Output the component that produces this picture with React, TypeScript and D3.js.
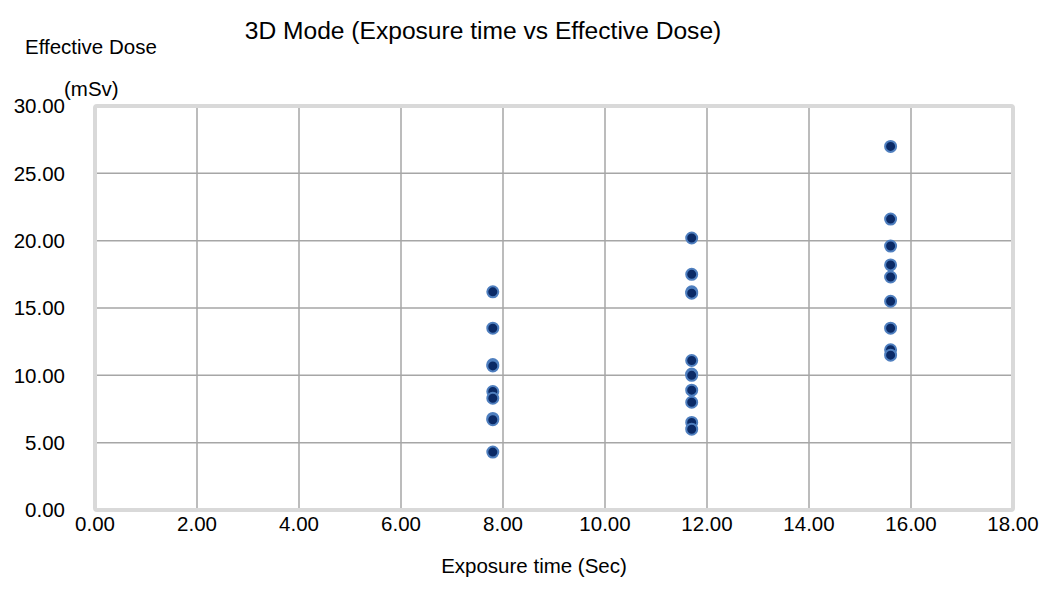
import React from 'react';
import * as d3 from 'd3';

// exposure time (Sec) per scan group
const xGroups = [7.8, 11.7, 15.6];
// effective dose (mSv) read per group
const doses7_8 = [16.2, 13.5, 10.8, 10.7, 8.8, 8.3, 6.8, 6.7, 4.3];
const doses11_7 = [20.2, 17.5, 16.2, 16.1, 11.1, 10.1, 10.0, 8.9, 8.0, 6.5, 6.0];
const doses15_6 = [27.0, 21.6, 19.6, 18.2, 17.3, 15.5, 13.5, 11.9, 11.5];
const xTicks = [0, 2, 4, 6, 8, 10, 12, 14, 16, 18];
const yTicks = [0, 5, 10, 15, 20, 25, 30];

const W = 1047;
const H = 604;
const font = 'Liberation Sans, Arial, sans-serif';

const App = () => {
  const x = d3.scaleLinear().domain([0, 18]).range([95, 1013]);
  const y = d3.scaleLinear().domain([0, 30]).range([510, 106]);

  const points = [doses7_8, doses11_7, doses15_6].flatMap((arr, i) =>
    arr.map(v => ({ x: xGroups[i], y: v }))
  );

  return (
    <svg width={W} height={H} style={{ position: 'absolute', left: 0, top: 0 }}>
      <rect width={W} height={H} fill="#fff" />
      <text x={483} y={39} textAnchor="middle" fontFamily={font} fontSize={24.6} fill="#000">
        3D Mode (Exposure time vs Effective Dose)
      </text>
      <text x={25} y={54} fontFamily={font} fontSize={20.5} fill="#000">Effective Dose</text>
      <text x={64} y={96} fontFamily={font} fontSize={20.5} fill="#000">(mSv)</text>

      {/* grid */}
      {xTicks.filter(t => t > 0 && t < 18).map(t => (
        <line key={'gx' + t} x1={x(t)} x2={x(t)} y1={y(30)} y2={y(0)} stroke="#a6a6a6" strokeWidth={1.5} />
      ))}
      {yTicks.filter(t => t > 0 && t < 30).map(t => (
        <line key={'gy' + t} x1={x(0)} x2={x(18)} y1={y(t)} y2={y(t)} stroke="#a6a6a6" strokeWidth={1.5} />
      ))}
      <rect x={x(0)} y={y(30)} width={x(18) - x(0)} height={y(0) - y(30)} fill="none" stroke="#d9d9d9" strokeWidth={4} rx={2} />

      {/* tick labels */}
      {yTicks.map(t => (
        <text key={'ty' + t} x={65} y={y(t)} dy="0.35em" textAnchor="end" fontFamily={font} fontSize={20.5} fill="#000">
          {t.toFixed(2)}
        </text>
      ))}
      {xTicks.map(t => (
        <text key={'tx' + t} x={x(t)} y={531} textAnchor="middle" fontFamily={font} fontSize={20.5} fill="#000">
          {t.toFixed(2)}
        </text>
      ))}
      <text x={534} y={573} textAnchor="middle" fontFamily={font} fontSize={20.5} fill="#000">
        Exposure time (Sec)
      </text>

      {points.map((p, i) => (
        <circle key={i} cx={x(p.x)} cy={y(p.y)} r={5.5} fill="#0b2a66" stroke="#4f7fbf" strokeWidth={2} />
      ))}
    </svg>
  );
};

export default App;
